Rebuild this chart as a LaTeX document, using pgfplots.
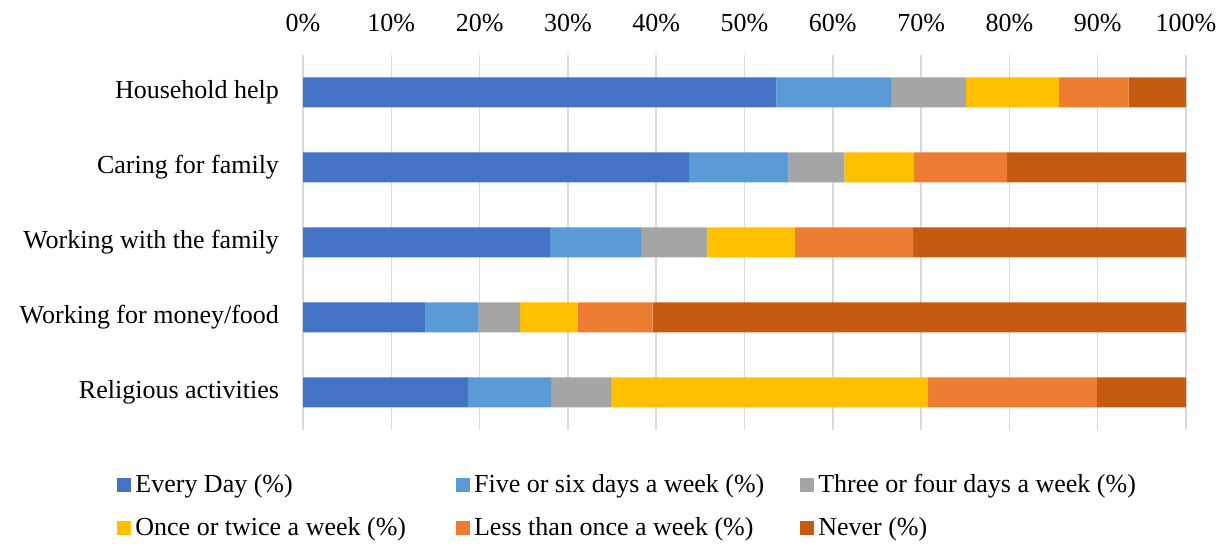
\documentclass[border=0pt]{standalone}
\usepackage{pgfplots}
\pgfplotsset{compat=1.18}
\usepackage{pgfplotstable}
\usepackage{fontspec}
\setmainfont{Liberation Serif}
\definecolor{cEvery}{HTML}{4472C4}
\definecolor{cFive}{HTML}{5B9BD5}
\definecolor{cThree}{HTML}{A5A5A5}
\definecolor{cOnce}{HTML}{FFC000}
\definecolor{cLess}{HTML}{ED7D31}
\definecolor{cNever}{HTML}{C55A11}
\definecolor{cGrid}{HTML}{D9D9D9}
\pgfplotstableread{
y every five three once less never
4 53.6 13.0 8.5 10.5 7.9 6.5
3 43.7 11.3 6.3 7.9 10.5 20.3
2 28.0 10.3 7.5 9.9 13.4 30.9
1 13.9 6.0 4.7 6.5 8.5 60.4
0 18.7 9.4 6.8 35.9 19.1 10.1
}\datatable
\newcommand{\chartfont}{\fontsize{13bp}{15bp}\selectfont}
\begin{document}
\begin{tikzpicture}
\useasboundingbox (0,0) rectangle (611.5bp,272bp);
\begin{axis}[
  at={(151.5bp,57bp)}, anchor=south west,
  scale only axis, width=441.5bp, height=187.5bp,
  xbar stacked, bar width=0.4,
  xmin=0, xmax=100, ymin=-0.5, ymax=4.5,
  xtick={0,10,...,100},
  xticklabels={0\%,10\%,20\%,30\%,40\%,50\%,60\%,70\%,80\%,90\%,100\%},
  xticklabel pos=upper,
  ytick={0,1,2,3,4},
  yticklabels={Religious activities,Working for money/food,Working with the family,Caring for family\ ,Household help},
  major tick length=0pt,
  axis line style={draw=none},
  xmajorgrids, ymajorgrids=false,
  major grid style={draw=cGrid, line width=0.75bp},
  tick label style={font=\chartfont},
  xticklabel style={yshift=8bp},
  yticklabel style={xshift=-8.5bp},
  /pgf/number format/assume math mode=true,
  legend columns=3,
  legend cell align=left,
  legend style={font=\chartfont, draw=none, inner sep=0pt,
    at={(-0.2106,-0.107)}, anchor=north west, row sep=7bp,
    /tikz/column 2/.style={column sep=23bp},
    /tikz/column 4/.style={column sep=16bp}},
  legend image code/.code={\fill[#1] (0bp,-3.5bp) rectangle (7bp,3.5bp);},
]
\addplot[fill=cEvery, draw=none] table[x=every, y=y] {\datatable};
\addplot[fill=cFive, draw=none] table[x=five, y=y] {\datatable};
\addplot[fill=cThree, draw=none] table[x=three, y=y] {\datatable};
\addplot[fill=cOnce, draw=none] table[x=once, y=y] {\datatable};
\addplot[fill=cLess, draw=none] table[x=less, y=y] {\datatable};
\addplot[fill=cNever, draw=none] table[x=never, y=y] {\datatable};
\legend{Every Day (\%),Five or six days a week (\%),Three or four days a week (\%),Once or twice a week (\%),Less than once a week (\%),Never (\%)}
\end{axis}
\end{tikzpicture}
\end{document}
